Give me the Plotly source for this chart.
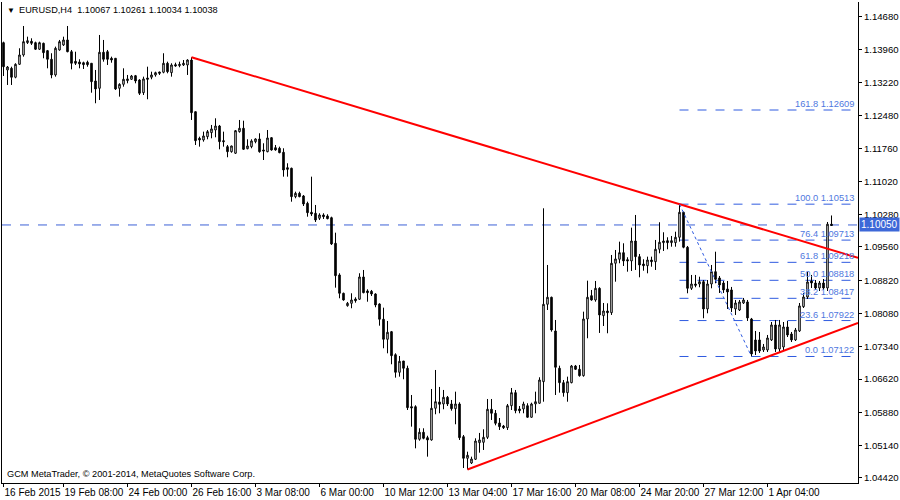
import plotly.graph_objects as go

# ---------------- data (EURUSD H4) ----------------
OPEN = [1.14108, 1.13500, 1.13537, 1.13338, 1.13626, 1.13834, 1.14108, 1.14139, 1.14108, 1.13961,
        1.14094, 1.13930, 1.13738, 1.13389, 1.13945, 1.14057, 1.14168, 1.13907, 1.13693, 1.13678,
        1.13662, 1.13671, 1.13649, 1.13255, 1.13092, 1.13894, 1.13907, 1.13760, 1.13760, 1.13092,
        1.13181, 1.13262, 1.13293, 1.13373, 1.13277, 1.12994, 1.13322, 1.13338, 1.13389, 1.13455,
        1.13449, 1.13649, 1.13440, 1.13618, 1.13596, 1.13611, 1.13611, 1.13722, 1.12571, 1.11979,
        1.11942, 1.12015, 1.12105, 1.12164, 1.12253, 1.11926, 1.11793, 1.11681, 1.11646, 1.12127,
        1.12202, 1.11748, 1.11793, 1.11904, 1.11964, 1.11719, 1.11681, 1.11993, 1.11770, 1.11757,
        1.11668, 1.11325, 1.11312, 1.10680, 1.10755, 1.10695, 1.10531, 1.10332, 1.10310, 1.10199,
        1.10272, 1.10250, 1.10212, 1.09642, 1.08937, 1.08529, 1.08253, 1.08306, 1.08402, 1.08396,
        1.08892, 1.08581, 1.08574, 1.08514, 1.08291, 1.07951, 1.07505, 1.07675, 1.07162, 1.06770,
        1.07022, 1.06860, 1.06005, 1.06005, 1.05279, 1.05435, 1.05315, 1.05264, 1.05969, 1.06110,
        1.06065, 1.06214, 1.06065, 1.05960, 1.06065, 1.05337, 1.04856, 1.04751, 1.04834, 1.05204,
        1.05212, 1.05323, 1.05947, 1.05858, 1.05642, 1.05575, 1.05537, 1.06027, 1.06317, 1.05954,
        1.05954, 1.06027, 1.05769, 1.06065, 1.06081, 1.06562, 1.08284, 1.08440, 1.07690, 1.06860,
        1.06539, 1.06317, 1.06539, 1.06911, 1.06837, 1.06695, 1.07957, 1.08476, 1.08380, 1.08640,
        1.08031, 1.08135, 1.08097, 1.09197, 1.09286, 1.09433, 1.09277, 1.09249, 1.09693, 1.09344,
        1.09181, 1.09143, 1.09270, 1.09233, 1.09509, 1.09656, 1.09700, 1.09656, 1.09656, 1.09776,
        1.10332, 1.09553, 1.08640, 1.08736, 1.08736, 1.08787, 1.08180, 1.08736, 1.09010, 1.08870,
        1.08758, 1.08625, 1.08603, 1.08180, 1.08157, 1.08313, 1.08336, 1.07957, 1.07490, 1.07490,
        1.07267, 1.07267, 1.07490, 1.07824, 1.07289, 1.07334, 1.07779, 1.07623, 1.07490, 1.07690,
        1.08231, 1.08447, 1.08803, 1.08758, 1.08647, 1.08758, 1.08647, 1.10067]
HIGH = [1.14130, 1.13588, 1.13573, 1.13649, 1.13983, 1.14479, 1.14241, 1.14205, 1.14130, 1.14130,
        1.14108, 1.13945, 1.13872, 1.14019, 1.14168, 1.14241, 1.14479, 1.13945, 1.13907, 1.13738,
        1.13685, 1.13707, 1.13649, 1.13500, 1.14279, 1.14168, 1.13945, 1.13796, 1.13760, 1.13203,
        1.13537, 1.13389, 1.13389, 1.13389, 1.13293, 1.13351, 1.13573, 1.13462, 1.13462, 1.13462,
        1.13872, 1.13685, 1.13649, 1.13662, 1.13685, 1.13722, 1.13738, 1.13783, 1.12571, 1.12015,
        1.12127, 1.12164, 1.12276, 1.12424, 1.12276, 1.12127, 1.11830, 1.11815, 1.12164, 1.12387,
        1.12371, 1.11957, 1.11957, 1.11979, 1.12091, 1.11868, 1.12164, 1.12001, 1.11830, 1.11793,
        1.11757, 1.11423, 1.11325, 1.10791, 1.10791, 1.10717, 1.10568, 1.11125, 1.10495, 1.10310,
        1.10310, 1.10288, 1.10234, 1.09878, 1.08975, 1.08543, 1.08336, 1.08529, 1.08440, 1.08975,
        1.09048, 1.08618, 1.08603, 1.08529, 1.08306, 1.08209, 1.07913, 1.07690, 1.07193, 1.07133,
        1.07022, 1.06918, 1.06265, 1.06036, 1.05524, 1.05524, 1.05358, 1.06399, 1.06822, 1.06444,
        1.06377, 1.06243, 1.06154, 1.06339, 1.06103, 1.05375, 1.05003, 1.04892, 1.05301, 1.05420,
        1.05502, 1.06176, 1.06176, 1.05931, 1.05753, 1.05598, 1.06065, 1.06421, 1.06377, 1.06020,
        1.06116, 1.06081, 1.06094, 1.06339, 1.06659, 1.10421, 1.09159, 1.08454, 1.07935, 1.06918,
        1.06599, 1.06673, 1.06933, 1.06933, 1.06933, 1.08120, 1.08810, 1.08603, 1.08803, 1.08663,
        1.08313, 1.08306, 1.09382, 1.09493, 1.09678, 1.09642, 1.09331, 1.09990, 1.10272, 1.09404,
        1.09286, 1.09344, 1.09344, 1.09716, 1.10110, 1.09887, 1.09776, 1.09805, 1.09900, 1.10513,
        1.10346, 1.09582, 1.08937, 1.08937, 1.08898, 1.08825, 1.08825, 1.09159, 1.09455, 1.08914,
        1.08803, 1.08803, 1.08670, 1.08380, 1.08380, 1.08425, 1.08380, 1.07980, 1.07690, 1.07668,
        1.07401, 1.07601, 1.07890, 1.07935, 1.07935, 1.07890, 1.07913, 1.07668, 1.07757, 1.08313,
        1.08536, 1.09003, 1.08937, 1.08825, 1.08803, 1.08847, 1.10116, 1.10261]
LOW = [1.13366, 1.13166, 1.13166, 1.13315, 1.13611, 1.13796, 1.14079, 1.14057, 1.13945, 1.13945,
       1.13760, 1.13537, 1.13315, 1.13351, 1.13930, 1.14035, 1.13894, 1.13514, 1.13611, 1.13537,
       1.13522, 1.13573, 1.12994, 1.12759, 1.12832, 1.13685, 1.13611, 1.13662, 1.13055, 1.12906,
       1.13128, 1.13203, 1.13277, 1.13203, 1.12943, 1.12943, 1.12848, 1.13293, 1.13351, 1.13389,
       1.13426, 1.13426, 1.13351, 1.13573, 1.13560, 1.13589, 1.13389, 1.12387, 1.11830, 1.11793,
       1.11904, 1.11957, 1.11979, 1.12001, 1.11734, 1.11793, 1.11557, 1.11659, 1.11630, 1.12105,
       1.11719, 1.11734, 1.11757, 1.11868, 1.11659, 1.11496, 1.11668, 1.11704, 1.11704, 1.11646,
       1.11125, 1.11125, 1.10568, 1.10644, 1.10666, 1.10472, 1.10234, 1.10250, 1.10116, 1.10161,
       1.10183, 1.10176, 1.09604, 1.08654, 1.08418, 1.08364, 1.08231, 1.08196, 1.08320, 1.08380,
       1.08529, 1.08342, 1.08469, 1.08218, 1.07808, 1.07305, 1.07193, 1.06949, 1.06651, 1.06673,
       1.06615, 1.05931, 1.05560, 1.05078, 1.05248, 1.05279, 1.04892, 1.05248, 1.05836, 1.05858,
       1.05947, 1.06020, 1.05916, 1.05613, 1.05264, 1.04640, 1.04607, 1.04729, 1.04818, 1.04981,
       1.05041, 1.05286, 1.05709, 1.05590, 1.05486, 1.05508, 1.05486, 1.05931, 1.05858, 1.05858,
       1.05858, 1.05760, 1.05760, 1.05858, 1.06072, 1.06116, 1.08157, 1.07674, 1.06265, 1.06317,
       1.06228, 1.06116, 1.06525, 1.06822, 1.06673, 1.06673, 1.07528, 1.08364, 1.08342, 1.07646,
       1.07801, 1.07639, 1.08046, 1.08787, 1.09197, 1.09137, 1.09010, 1.09026, 1.09048, 1.08885,
       1.09032, 1.08974, 1.09121, 1.09048, 1.09419, 1.09471, 1.09509, 1.09566, 1.09566, 1.09678,
       1.09531, 1.08529, 1.08603, 1.08663, 1.08663, 1.07973, 1.08084, 1.08640, 1.08752, 1.08536,
       1.08536, 1.08180, 1.08113, 1.08046, 1.08135, 1.08291, 1.07913, 1.07122, 1.07156, 1.07200,
       1.07223, 1.07223, 1.07467, 1.07223, 1.07223, 1.07267, 1.07556, 1.07445, 1.07467, 1.07668,
       1.08202, 1.08402, 1.08647, 1.08603, 1.08580, 1.08603, 1.08580, 1.10034]
CLOSE = [1.13573, 1.13566, 1.13338, 1.13626, 1.13834, 1.14130, 1.14152, 1.14094, 1.13961, 1.14108,
         1.13885, 1.13738, 1.13389, 1.13983, 1.14130, 1.14168, 1.13907, 1.13649, 1.13649, 1.13633,
         1.13618, 1.13618, 1.13239, 1.13077, 1.13894, 1.13738, 1.13738, 1.13722, 1.13077, 1.13181,
         1.13293, 1.13300, 1.13366, 1.13255, 1.12981, 1.13300, 1.13293, 1.13389, 1.13440, 1.13426,
         1.13649, 1.13462, 1.13611, 1.13589, 1.13626, 1.13649, 1.13722, 1.12549, 1.11926, 1.11942,
         1.12031, 1.12127, 1.12187, 1.12253, 1.11904, 1.11904, 1.11681, 1.11808, 1.12149, 1.12202,
         1.11734, 1.11808, 1.11920, 1.11964, 1.11681, 1.11697, 1.11986, 1.11719, 1.11719, 1.11659,
         1.11274, 1.11289, 1.10680, 1.10755, 1.10680, 1.10517, 1.10323, 1.10294, 1.10161, 1.10272,
         1.10234, 1.10190, 1.09627, 1.08921, 1.08529, 1.08380, 1.08306, 1.08380, 1.08364, 1.08892,
         1.08543, 1.08543, 1.08514, 1.08269, 1.07951, 1.07505, 1.07661, 1.07140, 1.06770, 1.07015,
         1.06860, 1.05983, 1.05976, 1.05279, 1.05435, 1.05301, 1.05264, 1.05969, 1.06116, 1.06058,
         1.06214, 1.06065, 1.05960, 1.06065, 1.05315, 1.04856, 1.04923, 1.04840, 1.05241, 1.05264,
         1.05323, 1.05947, 1.05858, 1.05635, 1.05560, 1.05537, 1.06027, 1.06317, 1.05916, 1.05916,
         1.06065, 1.05769, 1.06065, 1.06116, 1.06599, 1.08284, 1.08440, 1.07712, 1.06882, 1.06539,
         1.06317, 1.06562, 1.06911, 1.06837, 1.06695, 1.07957, 1.08440, 1.08380, 1.08640, 1.08046,
         1.08135, 1.08097, 1.09197, 1.09293, 1.09433, 1.09249, 1.09249, 1.09693, 1.09344, 1.09159,
         1.09143, 1.09270, 1.09233, 1.09509, 1.09665, 1.09693, 1.09656, 1.09700, 1.09776, 1.10332,
         1.09553, 1.08640, 1.08736, 1.08707, 1.08787, 1.08180, 1.08736, 1.09010, 1.08841, 1.08714,
         1.08603, 1.08558, 1.08202, 1.08313, 1.08336, 1.08380, 1.07980, 1.07178, 1.07245, 1.07245,
         1.07334, 1.07534, 1.07824, 1.07289, 1.07824, 1.07779, 1.07601, 1.07490, 1.07712, 1.08247,
         1.08447, 1.08781, 1.08758, 1.08647, 1.08758, 1.08647, 1.10067, 1.10038]

X_TICK_IDX = [0, 15, 31, 47, 63, 79, 95, 111, 127, 143, 159, 175, 191]
X_TICK_TEXT = ["16 Feb 2015", "19 Feb 08:00", "24 Feb 00:00", "26 Feb 16:00", "3 Mar 08:00",
               "6 Mar 00:00", "10 Mar 12:00", "13 Mar 04:00", "17 Mar 16:00", "20 Mar 08:00",
               "24 Mar 20:00", "27 Mar 12:00", "1 Apr 04:00"]
Y_TICKS = [1.04420, 1.05140, 1.05880, 1.06620, 1.07340, 1.08080, 1.08820, 1.09560,
           1.10280, 1.11020, 1.11760, 1.12480, 1.13220, 1.13960, 1.14680]

FIB_LEVELS = ["0.0", "23.6", "38.2", "50.0", "61.8", "76.4", "100.0", "161.8"]
FIB_PRICES = [1.07122, 1.07922, 1.08417, 1.08818, 1.09218, 1.09713, 1.10513, 1.12609]
FIB_FROM_BAR, FIB_TO_BAR = 169, 187

UPPER_TREND_BARS, UPPER_TREND_PRICES = [47, 169], [1.13783, 1.10513]
LOWER_TREND_BARS, LOWER_TREND_PRICES = [116, 194], [1.04607, 1.07215]

PRICE_LINE = 1.10050
TITLE = "EURUSD,H4  1.10067 1.10261 1.10034 1.10038"
COPYRIGHT = "GCM MetaTrader, \u00a9 2001-2014, MetaQuotes Software Corp."

# ---------------- figure ----------------
X_MIN, X_MAX = -0.375, 213.625
Y_MIN, Y_MAX = 1.04306, 1.15013
FONT = "Liberation Sans, Arial, sans-serif"
FIB_LINE = "#2f5be0"
FIB_TEXT = "#4f78e0"

bars = list(range(len(OPEN)))
fig = go.Figure()

fig.add_trace(go.Candlestick(
    x=bars, open=OPEN, high=HIGH, low=LOW, close=CLOSE,
    increasing=dict(line=dict(color="black", width=1), fillcolor="white"),
    decreasing=dict(line=dict(color="black", width=1), fillcolor="black"),
    whiskerwidth=0, showlegend=False, hoverinfo="skip"))


def ray(bars_, prices_):
    slope = (prices_[1] - prices_[0]) / (bars_[1] - bars_[0])
    return [bars_[0], X_MAX], [prices_[0], prices_[0] + slope * (X_MAX - bars_[0])]


for b, p in ((UPPER_TREND_BARS, UPPER_TREND_PRICES), (LOWER_TREND_BARS, LOWER_TREND_PRICES)):
    rx, ry = ray(b, p)
    fig.add_trace(go.Scatter(x=rx, y=ry, mode="lines", line=dict(color="#ff0000", width=2),
                             showlegend=False, hoverinfo="skip"))

# fibonacci diagonal
fig.add_trace(go.Scatter(x=[FIB_FROM_BAR, FIB_TO_BAR], y=[FIB_PRICES[6], FIB_PRICES[0]],
                         mode="lines", line=dict(color=FIB_LINE, width=1, dash="dot"),
                         showlegend=False, hoverinfo="skip"))

shapes = []
for lvl, pr in zip(FIB_LEVELS, FIB_PRICES):
    shapes.append(dict(type="line", xref="x", yref="y", x0=FIB_FROM_BAR, x1=X_MAX, y0=pr, y1=pr,
                       line=dict(color=FIB_LINE, width=1, dash="dash"), layer="below"))
shapes.append(dict(type="line", xref="paper", yref="y", x0=0, x1=1, y0=PRICE_LINE, y1=PRICE_LINE,
                   line=dict(color="#3d62d6", width=1, dash="dash"), layer="below"))

annotations = []
for lvl, pr in zip(FIB_LEVELS, FIB_PRICES):
    annotations.append(dict(x=X_MAX, y=pr, xref="x", yref="y", text=f"{lvl} {pr:.5f}",
                            showarrow=False, xanchor="right", yanchor="bottom", xshift=-2, yshift=-1,
                            font=dict(family=FONT, size=9.3, color=FIB_TEXT)))
annotations.append(dict(x=1, y=PRICE_LINE, xref="paper", yref="y", text=f"{PRICE_LINE:.5f}",
                        showarrow=False, xanchor="left", yanchor="middle", xshift=1,
                        bgcolor="#3d68d8", borderpad=1,
                        font=dict(family=FONT, size=10, color="white")))
annotations.append(dict(x=0.003, y=0.983, xref="paper", yref="paper", text="\u25BC",
                        showarrow=False, xanchor="left", yanchor="middle",
                        font=dict(family=FONT, size=8, color="black")))
annotations.append(dict(x=0.017, y=0.983, xref="paper", yref="paper", text=TITLE,
                        showarrow=False, xanchor="left", yanchor="middle",
                        font=dict(family=FONT, size=9.2, color="#000000")))
annotations.append(dict(x=0.003, y=0.019, xref="paper", yref="paper", text=COPYRIGHT,
                        showarrow=False, xanchor="left", yanchor="middle",
                        font=dict(family=FONT, size=9.2, color="black")))

fig.update_layout(
    width=900, height=500,
    margin=dict(l=2, r=42, t=2, b=17, autoexpand=False),
    paper_bgcolor="white", plot_bgcolor="white",
    font=dict(family=FONT, size=10, color="black"),
    boxgap=0.45,
    shapes=shapes, annotations=annotations,
    xaxis=dict(range=[X_MIN, X_MAX], rangeslider=dict(visible=False), showgrid=False,
               zeroline=False, showline=True, linecolor="black", linewidth=1, automargin=False,
               tickmode="array", tickvals=X_TICK_IDX, ticktext=X_TICK_TEXT, tickangle=0,
               ticks="outside", ticklen=3, tickcolor="black",
               ticklabelposition="outside right", tickfont=dict(family=FONT, size=10)),
    yaxis=dict(range=[Y_MIN, Y_MAX], side="right", showgrid=False, zeroline=False,
               showline=True, mirror=True, linecolor="black", linewidth=1, automargin=False,
               tickmode="array", tickvals=Y_TICKS, ticktext=[f"{v:.5f}" for v in Y_TICKS],
               ticks="outside", ticklen=3, tickcolor="black", tickfont=dict(family=FONT, size=9.6)),
)

fig.write_html("out.html", config={"displayModeBar": False},
               post_script="document.body.style.margin='0px';document.body.style.overflow='hidden';")
